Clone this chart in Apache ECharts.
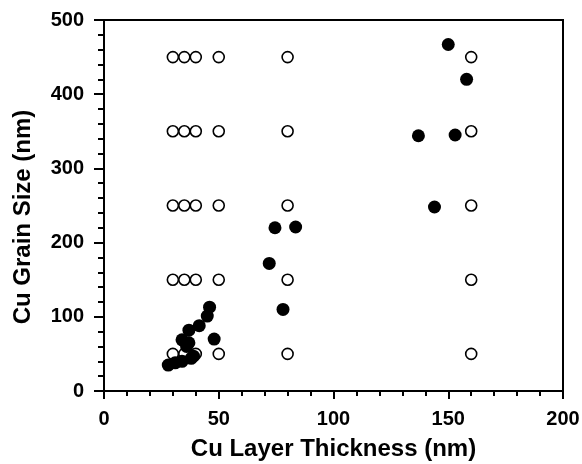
<!DOCTYPE html>
<html><head><meta charset="utf-8">
<script src="https://cdn.jsdelivr.net/npm/echarts@6/dist/echarts.min.js"></script>
<style>html,body{margin:0;padding:0;background:#fff}#c{width:582px;height:464px}</style>
</head><body><div id="c"></div>
<script>
// Open circles: reference thickness/grain-size grid
const openX = [30, 35, 40, 50, 80, 160];
const openY = [50, 150, 250, 350, 450];
// Filled circles: measured
const filledX = [28, 31, 34, 38, 39, 34, 37, 36, 37, 41.5, 45, 46, 48, 72, 74.5, 83.5, 78, 150, 158, 137, 153, 144];
const filledY = [35, 38, 40, 44, 47, 69, 65, 60, 82, 88, 101, 113, 70, 172, 220, 221, 110, 467, 420, 344, 345, 248];
const xTicks = [0, 50, 100, 150, 200];
const yTicks = [0, 100, 200, 300, 400, 500];

const openData = [];
openY.forEach(y => openX.forEach(x => openData.push([x, y])));
const filledData = filledX.map((x, i) => [x, filledY[i]]);

const font = 'Liberation Sans, Arial, sans-serif';
const chart = echarts.init(document.getElementById('c'));
chart.setOption({
  animation: false,
  backgroundColor: '#fff',
  grid: {left: 104, right: 19, top: 20, bottom: 73, show: true, borderColor: '#000', borderWidth: 2,
         containLabel: false, outerBoundsMode: 'none'},
  xAxis: {
    type: 'value', min: xTicks[0], max: xTicks[xTicks.length - 1], interval: 50,
    name: 'Cu Layer Thickness (nm)', nameLocation: 'middle', nameGap: 46,
    nameTextStyle: {fontFamily: font, fontWeight: 'bold', fontSize: 24, color: '#000'},
    axisLine: {lineStyle: {color: '#000', width: 2}},
    axisTick: {length: 8, lineStyle: {color: '#000', width: 2}},
    minorTick: {show: true, splitNumber: 5, length: 5, lineStyle: {color: '#000', width: 2}},
    splitLine: {show: false},
    axisLabel: {fontFamily: font, fontWeight: 'bold', fontSize: 20, color: '#000', margin: 18}
  },
  yAxis: {
    type: 'value', min: yTicks[0], max: yTicks[yTicks.length - 1], interval: 100,
    name: 'Cu Grain Size (nm)', nameLocation: 'middle', nameGap: 69, nameRotate: 90,
    nameTextStyle: {fontFamily: font, fontWeight: 'bold', fontSize: 24, color: '#000', padding: [0, 23, 0, 0]},
    axisLine: {lineStyle: {color: '#000', width: 2}},
    axisTick: {length: 10, lineStyle: {color: '#000', width: 2}},
    minorTick: {show: true, splitNumber: 5, length: 6, lineStyle: {color: '#000', width: 2}},
    splitLine: {show: false},
    axisLabel: {fontFamily: font, fontWeight: 'bold', fontSize: 20, color: '#000', margin: 20}
  },
  series: [
    {type: 'scatter', data: openData, symbol: 'circle', symbolSize: 11,
     itemStyle: {color: '#fff', borderColor: '#000', borderWidth: 1.6, opacity: 1}, z: 2},
    {type: 'scatter', data: filledData, symbol: 'circle', symbolSize: 13,
     itemStyle: {color: '#000', opacity: 1}, z: 3}
  ]
});
</script></body></html>
